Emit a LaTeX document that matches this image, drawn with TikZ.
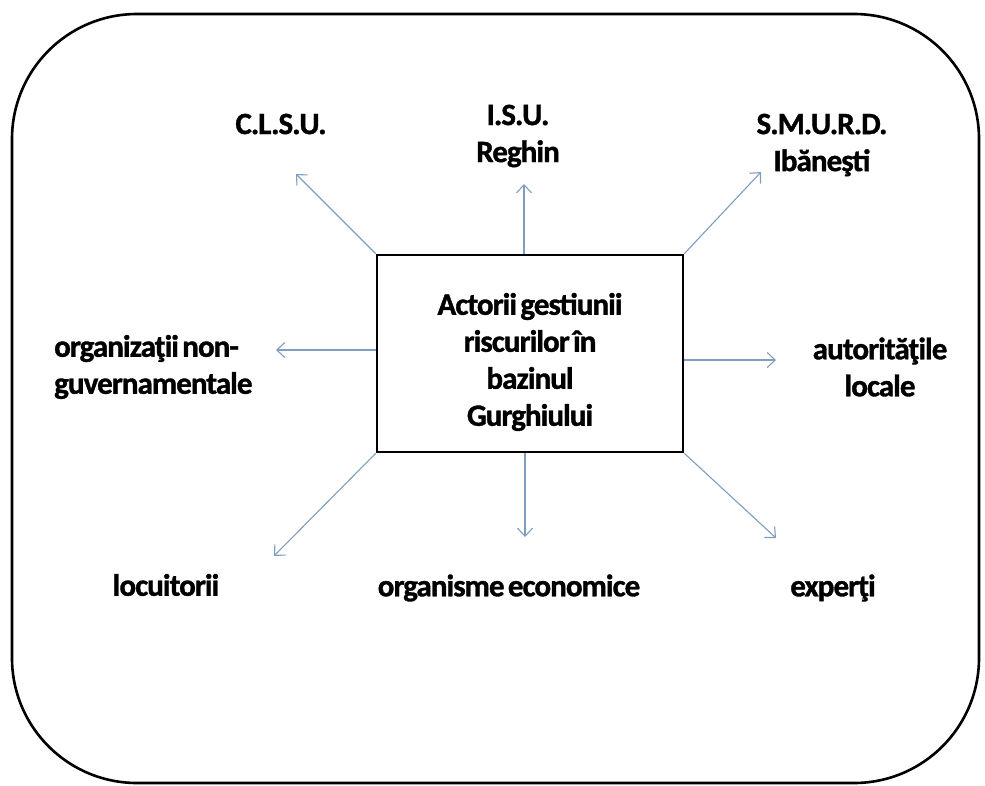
\documentclass[tikz,border=0pt]{standalone}
\usepackage{fontspec}
\setmainfont{Carlito}[LetterSpace=-3.0, WordSpace=0.55, BoldFeatures={FakeBold=1.2}]
\usetikzlibrary{arrows.meta}
\definecolor{arrowblue}{HTML}{7F9DBF}
\tikzset{
  lbl/.style={font=\bfseries\fontsize{31}{37}\selectfont, align=center, inner sep=0pt, text=black},
  arr/.style={draw=arrowblue, line width=1.1pt, -{Straight Barb[length=8pt,width=15pt,line width=1.1pt]}},
  centerbox/.style={draw=black, line width=2.6pt, minimum width=306pt, minimum height=197pt, inner sep=0pt, fill=white},
  frame/.style={draw=black, line width=2.6pt, rounded corners=125pt}
}
\begin{document}
\begin{tikzpicture}[x=1pt,y=-1pt]
\useasboundingbox (0,0) rectangle (985,785);
\draw[frame] (12,14) rectangle (979,783);

\node[centerbox] (box) at (530,353.5) {};
\node[lbl] (boxtext) at (530,362) {Actorii gestiunii\\riscurilor în\\bazinul\\Gurghiului};

% labels
\node[lbl] (clsu) at (281,124) {C.L.S.U.};
\node[lbl] (isu) at (518,136) {I.S.U.\\Reghin};
\node[lbl] (smurd) at (822,145) {S.M.U.R.D.\\Ibăneşti};
\node[lbl, align=left, anchor=west] (ong) at (54,367) {organizaţii non-\\guvernamentale};
\node[lbl] (aut) at (880,367) {autorităţile\\locale};
\node[lbl] (locu) at (166,585) {locuitorii};
\node[lbl] (econ) at (509,588) {organisme economice};
\node[lbl] (exp) at (833,588) {experţi};

% arrow end points
\coordinate (eclsu) at (296,174);
\coordinate (eisu) at (524,184);
\coordinate (esmurd) at (761,172);
\coordinate (eong) at (276,350);
\coordinate (eaut) at (776,360);
\coordinate (elocu) at (274,556);
\coordinate (eecon) at (525,537);
\coordinate (eexp) at (776,538);

\draw[arr] (box.north west) -- (eclsu);
\draw[arr] (box.north -| eisu) -- (eisu);
\draw[arr] (box.north east) -- (esmurd);
\draw[arr] (box.west |- eong) -- (eong);
\draw[arr] (box.east |- eaut) -- (eaut);
\draw[arr] (box.south west) -- (elocu);
\draw[arr] (box.south -| eecon) -- (eecon);
\draw[arr] (box.south east) -- (eexp);
\end{tikzpicture}
\end{document}
